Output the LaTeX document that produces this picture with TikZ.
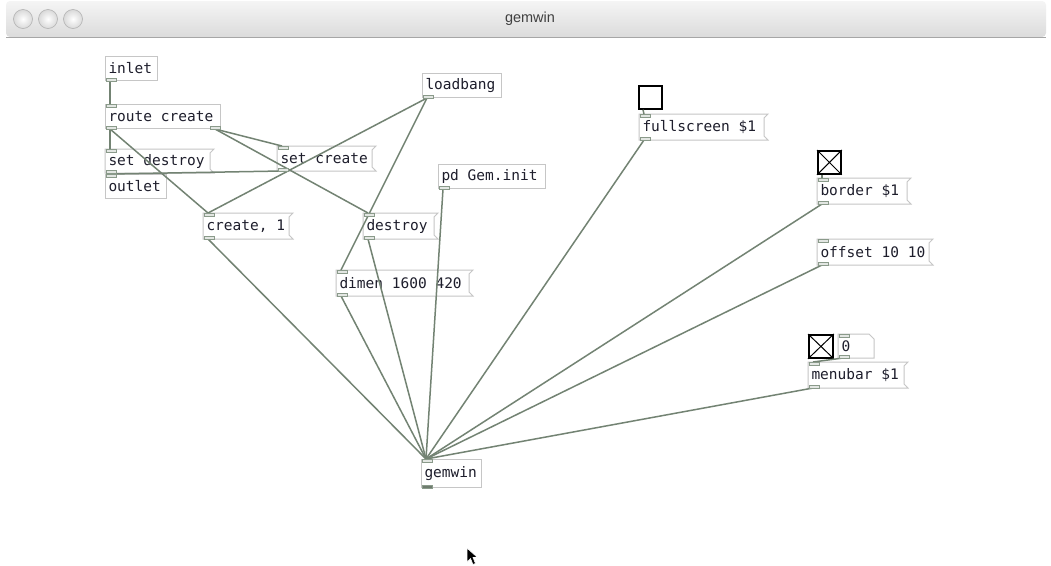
\documentclass[tikz,border=0pt]{standalone}
\usepackage{fontspec}
\setmonofont{DejaVu Sans Mono}
\setsansfont{Liberation Sans}
\usetikzlibrary{calc,shadings}
\definecolor{wirec}{HTML}{738373}
\definecolor{boxc}{HTML}{C6C6C6}
\definecolor{portc}{HTML}{8A9A8A}
\definecolor{txt}{HTML}{1E1E2C}
\newcommand\bx[2]{\makebox[#1pt][l]{#2}}
\newcommand\msgshape[1]{%
  \filldraw[boxline] (#1.north west) -- ($(#1.north east)+(4,0)$) -- ($(#1.north east)+(0,4)$)
    -- ($(#1.south east)+(0,-4)$) -- ($(#1.south east)+(4,0)$) -- (#1.south west) -- cycle;}
\newcommand\inport[1]{\draw[port] ($(#1.north west)+(1,0)$) rectangle ($(#1.north west)+(11,3)$);}
\newcommand\outport[1]{\draw[port] ($(#1.south west)+(1,-3)$) rectangle ($(#1.south west)+(11,0)$);}
\newcommand\outportR[1]{\draw[port] ($(#1.south east)+(-11,-3)$) rectangle ($(#1.south east)+(-1,0)$);}
\newcommand\wire[2]{\draw[wire] ($(#1.south west)+(5,0)$) -- ($(#2.north west)+(5,0)$);}
\newcommand\wireR[2]{\draw[wire] ($(#1.south east)+(-6,0)$) -- ($(#2.north west)+(5,0)$);}
\begin{document}
\begin{tikzpicture}[x=1pt,y=-1pt,
  boxline/.style={draw=boxc,line width=1pt,fill=white},
  obj/.style={draw=boxc,line width=1pt,fill=white,anchor=north west,minimum height=24,
    inner xsep=3,inner ysep=0,font=\ttfamily\fontsize{14.5}{15}\selectfont,text=txt},
  msgn/.style={obj,draw=none,fill=none},
  wire/.style={draw=wirec,line width=1.5pt},
  port/.style={draw=portc,fill=portc!25,line width=0.8pt},
  tgl/.style={draw=black,line width=1.8pt,fill=white,anchor=north west,
    minimum width=23,minimum height=23,inner sep=0},
  light/.style={draw=gray!60,line width=0.6pt,inner color=white,outer color=gray!30}]
\useasboundingbox (0,0) rectangle (1051,565);
\fill[white] (0,0) rectangle (1051,565);
% title bar
\shade[top color=gray!8,bottom color=gray!28,rounded corners=4pt] (6,1) rectangle (1046,37);
\draw[gray!70,line width=1pt] (6,37) -- (1046,37);
\shade[light] (23,19) circle (9.5);
\shade[light] (48,19) circle (9.5);
\shade[light] (73,19) circle (9.5);
\node[font=\sffamily\fontsize{14.5}{15}\selectfont,text=black!75] (title) at (530,19) {gemwin};

% objects
\node[obj] (inlet) at (105,56) {\bx{46}{inlet}};
\node[obj] (route) at (105,104) {\bx{109}{route create}};
\node[msgn,minimum height=23] (setd) at (105,149) {\bx{98}{set destroy}};
\node[obj] (outlet) at (105,174) {\bx{55}{outlet}};
\node[msgn] (setc) at (277,146) {\bx{88}{set create}};
\node[obj] (loadbang) at (422,73) {\bx{73}{loadbang}};
\node[obj] (geminit) at (438,164) {\bx{101}{pd Gem.init}};
\node[msgn,minimum height=25] (create) at (203,213) {\bx{79}{create, 1}};
\node[msgn,minimum height=25] (destroy) at (363,213) {\bx{64}{destroy}};
\node[msgn,minimum height=25] (dimen) at (336,270) {\bx{126}{dimen 1600 420}};
\node[tgl] (t1) at (638,85) {};
\node[msgn,minimum height=25] (full) at (639,114) {\bx{118}{fullscreen \$1}};
\node[tgl] (t2) at (817,150) {};
\node[msgn,minimum height=25] (border) at (817,178) {\bx{83}{border \$1}};
\node[msgn,minimum height=25] (offset) at (817,239) {\bx{105}{offset 10 10}};
\node[tgl,minimum width=24] (t3) at (808,334) {};
\node[msgn,minimum height=23] (num) at (838,334) {\bx{29}{0}};
\node[msgn,minimum height=25] (menubar) at (808,362) {\bx{89}{menubar \$1}};
\node[obj,minimum height=28] (gemwin) at (421,459) {\bx{54}{gemwin}};

% message shapes, then their texts again on top
\foreach \m in {setd,setc,create,destroy,dimen,full,border,offset,menubar}{\msgshape{\m}}
\filldraw[boxline] (num.north west) -- ($(num.north east)+(-5,0)$) -- ($(num.north east)+(0,5)$)
  -- (num.south east) -- (num.south west) -- cycle;
\node[msgn,minimum height=23] at (setd.north west) {\bx{98}{set destroy}};
\node[msgn] at (setc.north west) {\bx{88}{set create}};
\node[msgn,minimum height=25] at (create.north west) {\bx{79}{create, 1}};
\node[msgn,minimum height=25] at (destroy.north west) {\bx{64}{destroy}};
\node[msgn,minimum height=25] at (dimen.north west) {\bx{126}{dimen 1600 420}};
\node[msgn,minimum height=25] at (full.north west) {\bx{118}{fullscreen \$1}};
\node[msgn,minimum height=25] at (border.north west) {\bx{83}{border \$1}};
\node[msgn,minimum height=25] at (offset.north west) {\bx{105}{offset 10 10}};
\node[msgn,minimum height=23] at (num.north west) {\bx{29}{0}};
\node[msgn,minimum height=25] at (menubar.north west) {\bx{89}{menubar \$1}};

% toggles X
\draw[black,line width=1pt] (t2.north west) -- (t2.south east) (t2.north east) -- (t2.south west);
\draw[black,line width=1pt] (t3.north west) -- (t3.south east) (t3.north east) -- (t3.south west);

% wires
\wire{inlet}{route}
\wire{route}{setd}
\wire{route}{create}
\wireR{route}{setc}
\wireR{route}{destroy}
\wire{setd}{outlet}
\wire{setc}{outlet}
\wire{loadbang}{create}
\wire{loadbang}{dimen}
\wire{geminit}{gemwin}
\wire{create}{gemwin}
\wire{destroy}{gemwin}
\wire{dimen}{gemwin}
\wire{t1}{full}
\wire{full}{gemwin}
\wire{t2}{border}
\wire{border}{gemwin}
\wire{offset}{gemwin}
\wire{num}{menubar}
\wire{menubar}{gemwin}

% ports
\outport{inlet}
\inport{route}\outport{route}\outportR{route}
\inport{setd}\outport{setd}
\inport{outlet}
\inport{setc}\outport{setc}
\outport{loadbang}
\outport{geminit}
\inport{create}\outport{create}
\inport{destroy}\outport{destroy}
\inport{dimen}\outport{dimen}
\inport{full}\outport{full}
\inport{border}\outport{border}
\inport{offset}\outport{offset}
\inport{num}\outport{num}
\inport{menubar}\outport{menubar}
\inport{gemwin}
\draw[port,fill=portc!80!black] ($(gemwin.south west)+(1,-3)$) rectangle ($(gemwin.south west)+(11,0)$);

% mouse pointer
\filldraw[black,draw=white,line width=0.6pt] (467,548) -- (467,562) -- (470.5,558.5) -- (473,564.5)
  -- (475.5,563.5) -- (473,557.5) -- (477.5,557.5) -- cycle;
\end{tikzpicture}
\end{document}
